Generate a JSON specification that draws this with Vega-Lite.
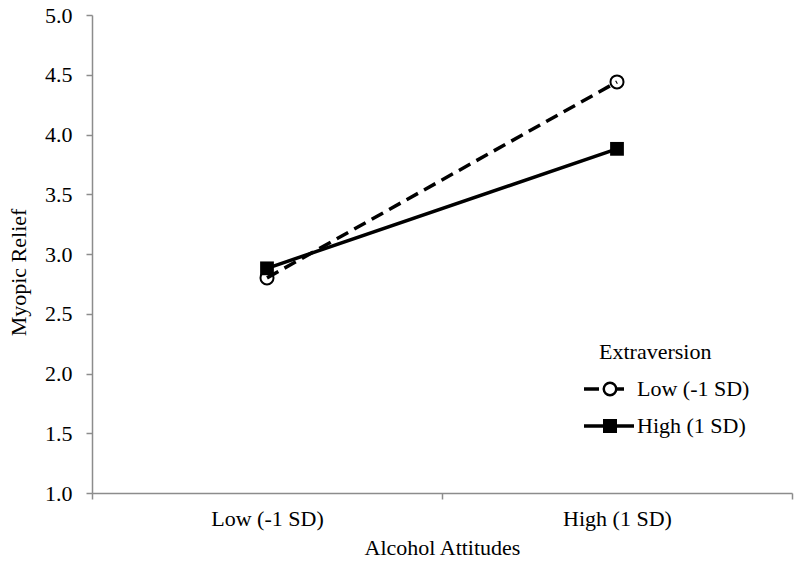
{
  "$schema": "https://vega.github.io/schema/vega-lite/v6.json",
  "width": 700,
  "height": 478,
  "autosize": {"type": "none"},
  "padding": {"left": 92, "top": 15, "right": 8, "bottom": 70},
  "background": "white",
  "config": {
    "view": {"stroke": null},
    "font": "Liberation Serif, Times New Roman, serif",
    "axis": {
      "domainColor": "#8c8c8c",
      "tickColor": "#8c8c8c",
      "domainWidth": 1.5,
      "tickWidth": 1.5,
      "tickSize": 6,
      "grid": false,
      "labelFont": "Liberation Serif, Times New Roman, serif",
      "labelFontSize": 22,
      "labelColor": "black",
      "titleFont": "Liberation Serif, Times New Roman, serif",
      "titleFontSize": 22,
      "titleFontWeight": "normal",
      "titleColor": "black"
    }
  },
  "data": {
    "values": [
      {"attitude": "Low (-1 SD)", "extraversion": "Low (-1 SD)", "relief": 2.80},
      {"attitude": "High (1 SD)", "extraversion": "Low (-1 SD)", "relief": 4.44},
      {"attitude": "Low (-1 SD)", "extraversion": "High (1 SD)", "relief": 2.88},
      {"attitude": "High (1 SD)", "extraversion": "High (1 SD)", "relief": 3.88}
    ]
  },
  "encoding": {
    "x": {
      "field": "attitude",
      "type": "nominal",
      "bandPosition": 0.5,
      "scale": {"type": "band", "domain": ["Low (-1 SD)", "High (1 SD)"], "paddingInner": 0, "paddingOuter": 0},
      "axis": {"title": "Alcohol Attitudes", "labelAngle": 0, "tickBand": "extent", "labelPadding": 9, "titlePadding": 8}
    },
    "y": {
      "field": "relief",
      "type": "quantitative",
      "scale": {"domain": [1, 5], "nice": false, "zero": false},
      "axis": {
        "title": "Myopic Relief",
        "values": [1, 1.5, 2, 2.5, 3, 3.5, 4, 4.5, 5],
        "format": ".1f",
        "labelPadding": 14,
        "titleX": -62,
        "titleY": 257
      }
    }
  },
  "layer": [
    {
      "transform": [{"filter": "datum.extraversion === 'Low (-1 SD)'"}],
      "mark": {"type": "line", "color": "black", "strokeWidth": 3.5, "strokeDash": [13, 7]},
      "encoding": {}
    },
    {
      "transform": [{"filter": "datum.extraversion === 'High (1 SD)'"}],
      "mark": {"type": "line", "color": "black", "strokeWidth": 3.5},
      "encoding": {}
    },
    {
      "transform": [{"filter": "datum.extraversion === 'Low (-1 SD)'"}],
      "mark": {"type": "point", "shape": "circle", "size": 170, "filled": false, "stroke": "black", "strokeWidth": 2, "fill": "transparent", "opacity": 1}
    },
    {
      "transform": [{"filter": "datum.extraversion === 'High (1 SD)'"}],
      "mark": {"type": "point", "shape": "square", "size": 190, "filled": true, "color": "black", "opacity": 1}
    },
    {
      "mark": {"type": "point", "filled": true, "color": "black", "opacity": 0},
      "encoding": {
        "shape": {
          "field": "extraversion",
          "type": "nominal",
          "scale": {
            "domain": ["Low (-1 SD)", "High (1 SD)"],
            "range": [
              "M-2.6,-0.18L-1.1,-0.18L-1.1,0.18L-2.6,0.18ZM0.72,-0.18L1.4,-0.18L1.4,0.18L0.72,0.18ZM0.75,0L0.693,0.287L0.53,0.53L0.287,0.693L0,0.75L-0.287,0.693L-0.53,0.53L-0.693,0.287L-0.75,0L-0.693,-0.287L-0.53,-0.53L-0.287,-0.693L0,-0.75L0.287,-0.693L0.53,-0.53L0.693,-0.287ZM0.5,0L0.462,-0.191L0.354,-0.354L0.191,-0.462L0,-0.5L-0.191,-0.462L-0.354,-0.354L-0.462,-0.191L-0.5,0L-0.462,0.191L-0.354,0.354L-0.191,0.462L0,0.5L0.191,0.462L0.354,0.354L0.462,0.191Z",
              "M-2.6,-0.18L2.4,-0.18L2.4,0.18L-2.6,0.18ZM-0.7,-0.7L0.7,-0.7L0.7,0.7L-0.7,0.7Z"
            ]
          },
          "legend": {
            "title": "Extraversion",
            "orient": "none",
            "legendX": 507,
            "legendY": 327,
            "padding": 0,
            "titleFont": "Liberation Serif, Times New Roman, serif",
            "titleFontSize": 22,
            "titleFontWeight": "normal",
            "titleColor": "black",
            "titleAnchor": "start",
            "titlePadding": 14,
            "labelFont": "Liberation Serif, Times New Roman, serif",
            "labelFontSize": 22,
            "labelColor": "black",
            "labelOffset": 16,
            "rowPadding": 15,
            "symbolSize": 400,
            "symbolStrokeWidth": 0,
            "symbolFillColor": "black",
            "symbolOpacity": 1
          }
        }
      }
    }
  ]
}
